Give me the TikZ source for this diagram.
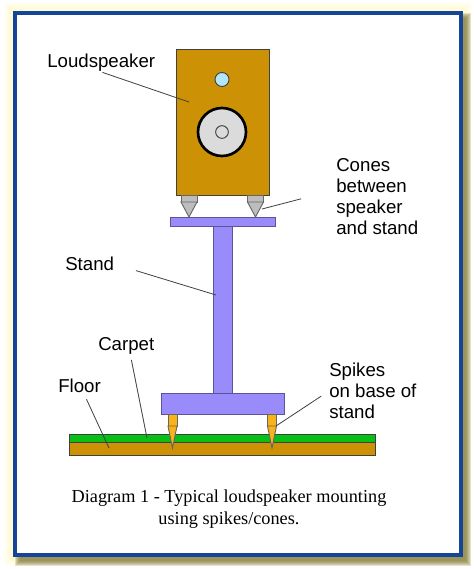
\documentclass[tikz,border=0pt]{standalone}
\usepackage{fontspec}
\setmainfont{Liberation Sans}
\newfontfamily\captionserif{Liberation Serif}
\definecolor{framblue}{rgb}{0.08,0.27,0.60}
\definecolor{cabinet}{rgb}{0.80,0.57,0.02}
\definecolor{standblue}{rgb}{0.60,0.55,0.98}
\definecolor{carpetgreen}{rgb}{0.03,0.75,0.08}
\definecolor{conegray}{gray}{0.74}
\definecolor{spikegold}{rgb}{0.98,0.70,0.10}
\definecolor{glowyellow}{rgb}{1.00,0.98,0.80}
\definecolor{shadowolive}{rgb}{0.50,0.47,0.22}
\usetikzlibrary{positioning}

\begin{document}
\begin{tikzpicture}[
        x=0.75pt,y=-0.75pt,
        part/.style={draw=black!75,line width=0.7pt},
        standpart/.style={part,fill=standblue,draw=standblue!60!black},
        conepart/.style={part,fill=conegray,draw=black!60},
        spikepart/.style={part,fill=spikegold,draw=black!60},
        tag/.style={font=\fontsize{14}{15.75}\selectfont,align=left,anchor=west,inner sep=0pt},
        leader/.style={draw=black!75,line width=0.6pt}
      ]
        \useasboundingbox (0,0) rectangle (474,569);
        % glow and shadow round the frame
        \foreach \g in {9,7,5,3}
          \fill[glowyellow,opacity=0.35] (14-\g,12-\g) rectangle (462+\g,556+\g);
        \foreach \g in {5,4,3,2,1,0}
          \fill[shadowolive,opacity=0.22] (20-\g,18-\g) rectangle (466+\g,561+\g);
        \draw[framblue,line width=3pt,fill=white] (15,13) rectangle (461,555);

        % speaker
        \draw[part,fill=cabinet] (176,49) rectangle (269,195);
        \node[circle,part,fill=cyan!30,minimum size=10.5pt,inner sep=0pt] (tweeter) at (222,79.5) {};
        \node[circle,draw=black,line width=2pt,fill=black!14,minimum size=36pt,inner sep=0pt] (woofer) at (222,132) {};
        \node[circle,part,fill=black!14,minimum size=9.5pt,inner sep=0pt] (dustcap) at (222,132) {};
        \foreach \c in {189,255.5} {
          \draw[conepart] (\c-8,195) rectangle (\c+8,202);
          \draw[conepart] (\c-8,202) -- (\c+8,202) -- (\c,217) -- cycle;
        }

        % stand
        \draw[standpart] (213,226) rectangle (232,393);
        \draw[standpart] (170,217) rectangle (275,226);
        \draw[standpart] (161,393) rectangle (284,414);

        % floor
        \draw[part,fill=carpetgreen] (69,434) rectangle (375,442);
        \draw[part,fill=cabinet] (69,442) rectangle (375,455);

        % spikes
        \foreach \c in {172.5,272} {
          \draw[spikepart] (\c-4.5,414) rectangle (\c+4.5,426);
          \draw[spikepart] (\c-4.5,426) -- (\c+4.5,426) -- (\c,448) -- cycle;
        }

        % labels
        \node[tag] (lspeaker) at (47,63) {Loudspeaker};
        \node[tag] (lcones) at (336,197) {Cones\\between\\speaker\\and stand};
        \node[tag] (lstand) at (65,264) {Stand};
        \node[tag] (lcarpet) at (98,346) {Carpet};
        \node[tag] (lfloor) at (58,386) {Floor};
        \node[tag] (lspikes) at (329,391) {Spikes\\on base of\\stand};
        \node[font=\captionserif\fontsize{13.7}{16.5}\selectfont,align=center,inner sep=0pt] (title) at (229,509)
          {Diagram 1 - Typical loudspeaker mounting\\using spikes/cones.};

        % leaders
        \coordinate (pspeaker) at (189,102);
        \coordinate (pcone) at (262,209);
        \coordinate (pstand) at (216,295);
        \coordinate (pcarpet) at (147,438);
        \coordinate (pfloor) at (109,448);
        \coordinate (pspike) at (276,426);
        \draw[leader,shorten <=1pt] (lspeaker.south) -- (pspeaker);
        \draw[leader,shorten <=27pt] (lcones.170) -- (pcone);
        \draw[leader,shorten <=17pt] (lstand.east) -- (pstand);
        \draw[leader,shorten <=4pt] (lcarpet.-65) -- (pcarpet);
        \draw[leader,shorten <=5pt] (lfloor.-60) -- (pfloor);
        \draw[leader,shorten <=7pt] (lspikes.west) -- (pspike);
      \end{tikzpicture}
\end{document}
